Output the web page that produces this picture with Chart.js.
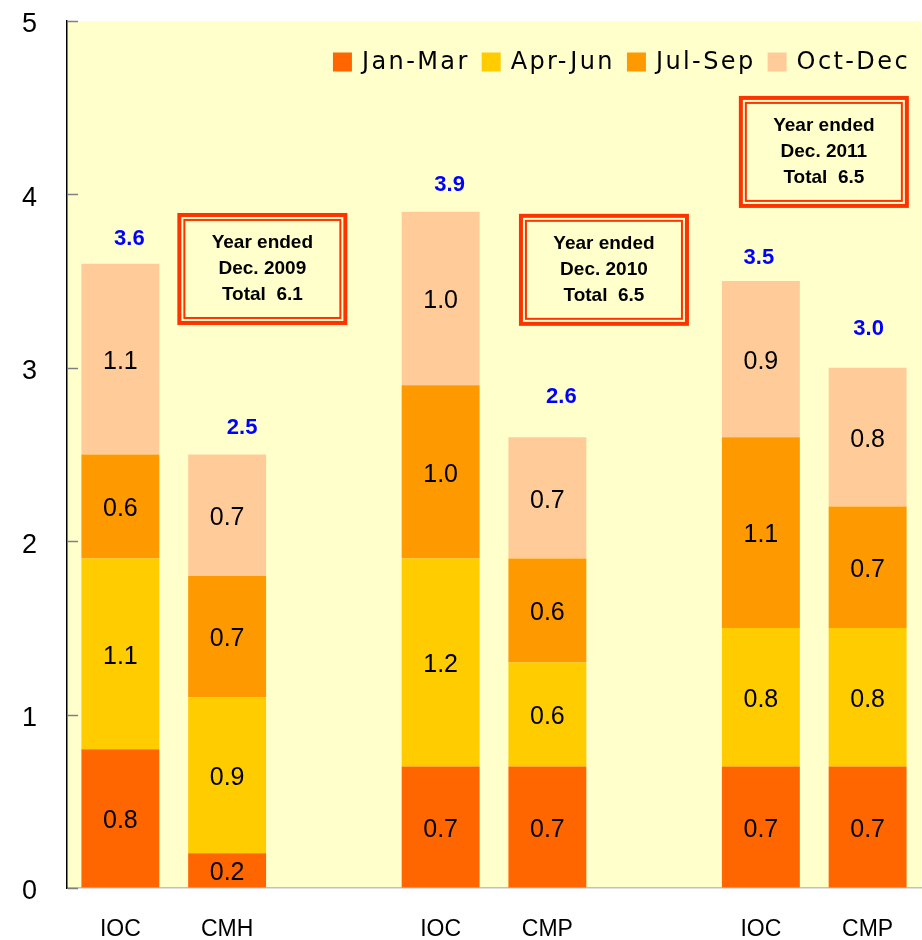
<!DOCTYPE html>
<html lang="en">
<head>
    <meta charset="UTF-8">
    <title>Quarterly volumes by plant</title>
    <script src="https://cdnjs.cloudflare.com/ajax/libs/Chart.js/4.4.1/chart.umd.min.js"></script>
    <style>
        html, body { margin: 0; padding: 0; background: #fff; }
        #wrap { width: 922px; height: 940px; }
    </style>
</head>
<body>
    <div id="wrap"><canvas id="volumeChart" width="922" height="940"></canvas></div>

    <script>
        // Data
        const categories = ['IOC', 'CMH', '', 'IOC', 'CMP', '', 'IOC', 'CMP'];
        const quarterNames = ['Jan-Mar', 'Apr-Jun', 'Jul-Sep', 'Oct-Dec'];
        const janMar = [0.8, 0.2, null, 0.7, 0.7, null, 0.7, 0.7];
        const aprJun = [1.1, 0.9, null, 1.2, 0.6, null, 0.8, 0.8];
        const julSep = [0.6, 0.7, null, 1.0, 0.6, null, 1.1, 0.7];
        const octDec = [1.1, 0.7, null, 1.0, 0.7, null, 0.9, 0.8];
        const totals = [3.6, 2.5, null, 3.9, 2.6, null, 3.5, 3.0];
        const yearLabels = ['Dec. 2009', 'Dec. 2010', 'Dec. 2011'];
        const yearTotals = [6.1, 6.5, 6.5];
        const yTicks = [0, 1, 2, 3, 4, 5];

        // Layout tweaks for the annotations (pixels / axis units)
        const totalShiftX = [9, 15, 0, 9, 14, 0, -2, 1];
        const totalLift = [25, 27, 0, 27, 40, 0, 23, 39];
        const boxAnchors = [[1.33, 3.57], [4.53, 3.565], [6.59, 4.245]];

        const quarterColors = ['#FF6600', '#FFCC00', '#FF9900', '#FFCC99'];
        const FONT = "'Liberation Sans', Arial, sans-serif";
        const LEGEND_FONT = "'DejaVu Sans', sans-serif";

        const bgPlugin = {
            id: 'plotBackground',
            beforeDraw(chart) {
                const { ctx, chartArea: a } = chart;
                ctx.save();
                ctx.fillStyle = '#FFFFCC';
                ctx.fillRect(a.left, a.top, a.right - a.left, a.bottom - a.top);
                ctx.restore();
            }
        };

        const annotatePlugin = {
            id: 'annotate',
            afterDatasetsDraw(chart) {
                const { ctx, chartArea: a } = chart;
                const xs = chart.scales.x, ys = chart.scales.y;
                ctx.save();

                // value inside each segment
                ctx.font = '25px ' + FONT;
                ctx.fillStyle = '#000';
                ctx.textAlign = 'center';
                ctx.textBaseline = 'middle';
                chart.data.datasets.forEach((ds, di) => {
                    chart.getDatasetMeta(di).data.forEach((bar, i) => {
                        const v = ds.data[i];
                        if (v == null) return;
                        const mid = (bar.y + bar.base) / 2 + 3;
                        ctx.fillText(v.toFixed(1), bar.x, mid);
                    });
                });

                // stack totals
                ctx.font = 'bold 22px ' + FONT;
                ctx.fillStyle = '#0000FF';
                totals.forEach((t, i) => {
                    if (t == null) return;
                    const x = xs.getPixelForValue(i) + totalShiftX[i];
                    const y = ys.getPixelForValue(t) - totalLift[i];
                    ctx.fillText(t.toFixed(1), x, y);
                });

                // year summary boxes with double red border
                const bw = 170, bh = 112;
                boxAnchors.forEach(([ix, yv], k) => {
                    const cx = xs.getPixelForValue(ix);
                    const cy = ys.getPixelForValue(yv);
                    const l = cx - bw / 2, t = cy - bh / 2;
                    ctx.fillStyle = '#FFFFCC';
                    ctx.fillRect(l, t, bw, bh);
                    ctx.strokeStyle = '#FF3300';
                    ctx.lineWidth = 4;
                    ctx.strokeRect(l + 2, t + 2, bw - 4, bh - 4);
                    ctx.lineWidth = 2;
                    ctx.strokeRect(l + 7, t + 7, bw - 14, bh - 14);
                    ctx.fillStyle = '#000';
                    ctx.font = 'bold 19px ' + FONT;
                    ctx.fillText('Year ended', cx, cy - 26);
                    ctx.fillText(yearLabels[k], cx, cy);
                    ctx.fillText('Total  ' + yearTotals[k].toFixed(1), cx, cy + 26);
                });

                // legend in the top right of the plot
                ctx.font = '24px ' + LEGEND_FONT;
                ctx.letterSpacing = '2.4px';
                ctx.textAlign = 'left';
                const sq = 19, gapBox = 10, gapItem = 12;
                const items = chart.data.datasets.map(ds => ({
                    label: ds.label, color: ds.backgroundColor,
                    w: sq + gapBox + ctx.measureText(ds.label).width
                }));
                const totalW = items.reduce((s, it) => s + it.w, 0) + gapItem * (items.length - 1);
                let lx = 910 - totalW;
                const ly = a.top + 41;
                items.forEach(it => {
                    ctx.fillStyle = it.color;
                    ctx.fillRect(lx, ly - sq / 2, sq, sq);
                    ctx.fillStyle = '#000';
                    ctx.fillText(it.label, lx + sq + gapBox, ly + 1);
                    lx += it.w + gapItem;
                });
                ctx.letterSpacing = '0px';

                // short inward tick marks on the value axis
                ctx.strokeStyle = '#808080';
                ctx.lineWidth = 1.5;
                yTicks.forEach(v => {
                    const y = Math.round(ys.getPixelForValue(v)) + 0.5;
                    ctx.beginPath();
                    ctx.moveTo(a.left + 1, y);
                    ctx.lineTo(a.left + 11, y);
                    ctx.stroke();
                });
                ctx.restore();
            }
        };

        const seriesData = [janMar, aprJun, julSep, octDec];

        new Chart(document.getElementById('volumeChart'), {
            type: 'bar',
            data: {
                labels: categories,
                datasets: quarterNames.map((name, i) => ({
                    label: name,
                    data: seriesData[i],
                    backgroundColor: quarterColors[i],
                    borderWidth: 0,
                    barPercentage: 0.73,
                    categoryPercentage: 1.0
                }))
            },
            options: {
                responsive: false,
                animation: false,
                devicePixelRatio: 1,
                layout: { padding: { top: 21, right: 1, left: 0, bottom: 0 } },
                plugins: {
                    legend: { display: false },
                    tooltip: { enabled: false }
                },
                scales: {
                    x: {
                        stacked: true,
                        grid: { display: false },
                        border: { color: '#C0C0C0', width: 1.5 },
                        ticks: {
                            color: '#000',
                            font: { family: FONT, size: 23 },
                            padding: 20,
                            maxRotation: 0
                        },
                        afterFit(scale) { scale.height = 52; }
                    },
                    y: {
                        stacked: true,
                        min: 0,
                        max: 5,
                        grid: { drawOnChartArea: false, drawTicks: false },
                        border: { color: '#000', width: 1.5 },
                        ticks: {
                            stepSize: 1,
                            color: '#000',
                            font: { family: FONT, size: 27 },
                            padding: 30,
                            labelOffset: 4
                        },
                        afterFit(scale) {
                            scale.width = 67;
                            scale.paddingTop = 0;
                            scale.paddingBottom = 0;
                        }
                    }
                }
            },
            plugins: [bgPlugin, annotatePlugin]
        });
    </script>
</body>
</html>
